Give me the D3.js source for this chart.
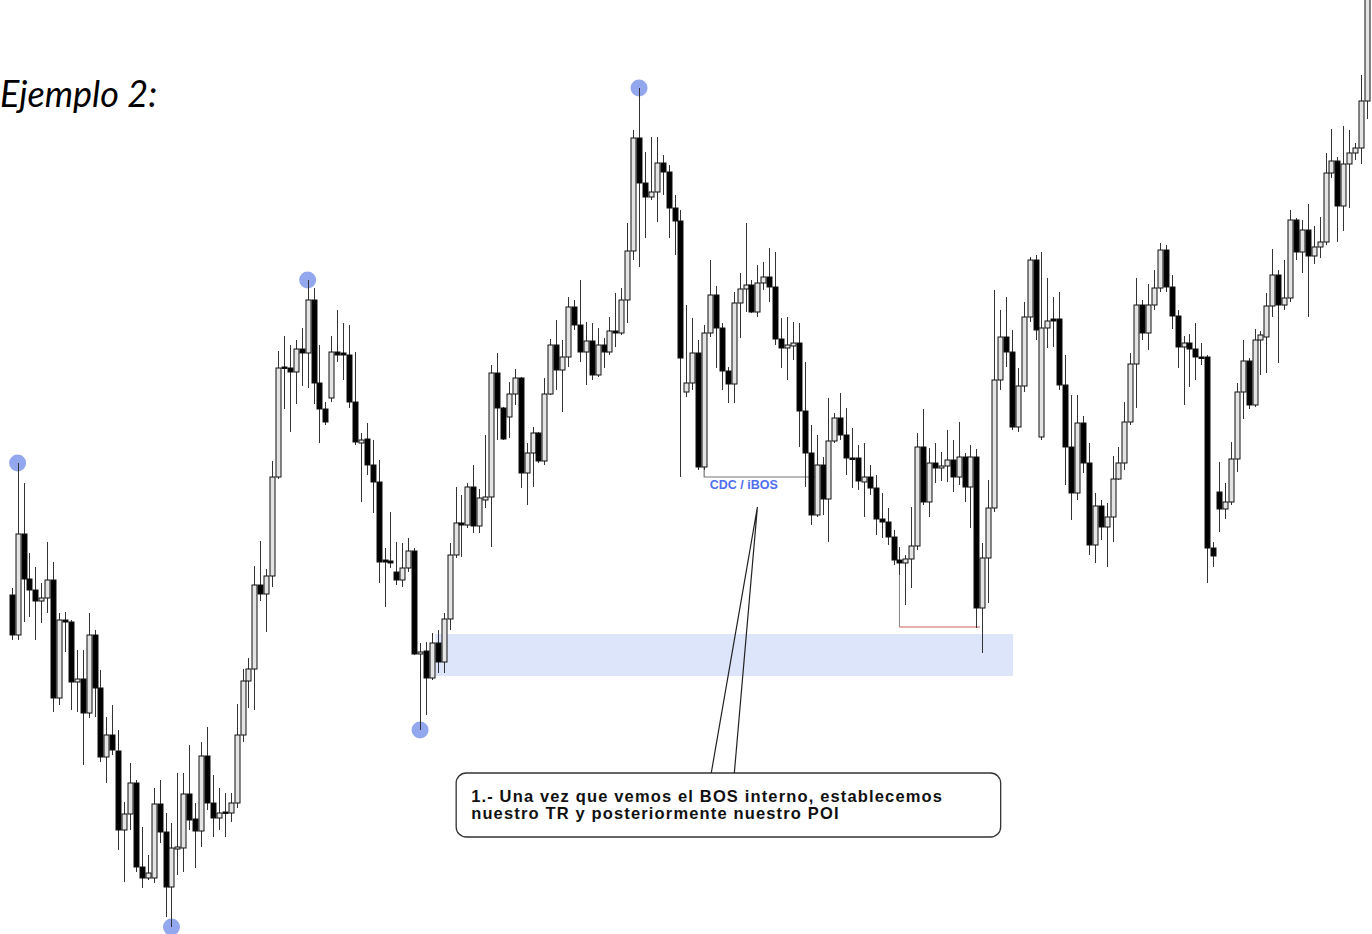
<!DOCTYPE html>
<html><head><meta charset="utf-8">
<script src="https://cdn.jsdelivr.net/npm/d3@7"></script>
<style>html,body{margin:0;padding:0;background:#fff;overflow:hidden}</style>
</head><body>
<script>
// Candle data (price points), one entry per candle, left to right
const opens = [405,365,466,421,410,399,402,420,302,380,378,318,321,287,365,312,243,265,249,170,
186,217,133,122,122,196,168,113,151,152,206,181,169,244,197,182,188,187,197,265,
319,331,415,406,424,523,633,632,628,651,647,700,617,591,602,648,647,645,598,557,
561,535,518,440,439,428,420,432,449,346,349,322,357,338,381,445,477,475,513,474,
500,503,627,592,583,606,622,527,547,567,539,606,655,630,643,693,675,648,659,625,
655,648,669,667,700,749,862,817,803,808,837,828,792,779,608,617,647,533,667,705,
672,629,616,697,711,715,688,717,723,713,661,652,654,657,589,547,485,535,501,559,
582,565,542,542,518,523,512,481,478,463,440,437,441,454,553,498,537,532,534,540,
523,543,513,543,392,442,492,620,663,648,573,614,683,740,563,672,681,681,615,553,
507,577,537,455,494,473,483,521,537,578,636,695,667,695,712,750,713,684,653,657,
651,643,643,452,508,491,498,541,608,639,595,660,663,694,725,695,702,780,748,770,
744,753,758,827,839,794,836,847,852,899];
const highs = [412,537,517,447,433,417,458,438,387,388,380,350,350,387,370,330,283,295,270,198,
237,220,173,145,212,220,187,177,227,227,255,197,258,273,225,212,207,207,296,331,
342,434,459,431,539,649,664,655,660,672,720,712,655,598,664,690,677,675,648,567,
577,560,540,452,488,458,457,462,452,357,358,367,370,387,457,513,505,517,535,511,
565,635,647,593,618,631,623,557,573,568,622,661,680,660,703,700,720,678,677,672,
662,683,707,712,777,870,912,848,863,863,845,835,805,790,695,682,660,675,740,714,
677,633,708,727,777,720,735,738,752,748,682,683,678,677,638,575,565,543,602,587,
607,592,572,555,557,535,525,507,492,470,453,445,493,567,591,552,557,548,570,560,
578,547,555,551,457,520,710,690,703,670,632,698,743,745,748,722,703,708,645,605,
605,584,557,507,500,497,544,553,598,647,722,700,716,730,757,755,725,690,664,666,
677,657,645,458,538,517,558,617,660,642,671,669,707,751,730,740,790,782,780,796,
774,783,847,871,843,874,870,857,925,1010];
const lows = [360,360,378,383,360,377,387,288,295,348,290,288,235,282,283,238,217,245,150,118,
170,128,112,120,117,157,83,73,125,128,170,132,153,190,163,170,163,178,192,258,
292,290,399,368,413,521,591,568,596,614,612,596,557,575,598,638,620,592,555,498,
525,487,417,393,432,415,413,428,345,270,285,320,327,327,370,442,443,472,467,467,
492,453,560,560,562,595,512,495,513,537,535,605,610,588,633,670,638,615,620,623,
632,645,653,665,677,740,733,762,800,778,805,762,745,523,603,610,530,530,663,632,
610,597,597,662,688,687,683,710,698,655,632,620,640,553,513,475,483,485,458,557,
560,525,512,510,483,505,465,462,455,435,425,395,412,450,495,483,517,519,518,508,
515,498,472,372,347,397,488,610,633,570,568,608,678,660,560,652,653,610,515,480,
500,527,445,437,460,433,458,520,530,575,592,660,650,690,708,708,671,632,595,613,
620,635,417,433,468,481,495,528,581,591,593,625,627,683,637,690,698,740,727,683,
736,742,755,822,758,769,792,840,836,881];
const closes = [365,466,421,410,399,402,420,302,380,378,318,321,287,365,312,243,265,250,170,186,
217,133,122,127,196,168,113,152,153,206,180,169,244,197,182,187,187,197,265,319,
331,415,406,424,523,632,632,628,651,647,700,617,591,578,648,645,645,598,558,560,
535,518,438,438,437,420,432,449,346,348,322,357,338,381,445,477,475,513,474,502,
503,627,592,561,606,622,527,547,567,539,606,655,630,643,693,675,648,659,625,655,
648,669,667,700,749,862,817,803,808,837,828,792,779,642,617,647,533,667,705,672,
629,616,697,711,715,688,717,723,713,661,652,655,657,589,547,485,535,501,559,582,
565,542,541,519,523,512,481,478,463,440,437,441,454,553,498,537,532,534,540,523,
543,513,543,392,442,492,620,663,648,573,614,683,740,670,672,679,679,615,553,507,
577,537,455,494,473,483,521,537,578,636,695,667,695,712,750,713,684,653,657,651,
643,642,452,444,491,498,541,608,639,595,660,665,694,725,695,702,780,748,770,744,
753,758,827,839,794,836,847,852,899,1010];

// Marked swing points: candle index and which extreme
const swingIdx  = [1, 27, 50, 69, 106];
const swingSide = ["high","low","high","low","high"];

// Annotation values (candle index / price)
const poiFrom = 71.6, poiTo = 169.2, poiTop = 366, poiBottom = 324;
const cdcFrom = 117, cdcTo = 135.7, cdcPrice = 523, cdcStart = 533, cdcLabelAt = 123.7;
const redFrom = 150, redTo = 163.6, redPrice = 373, redStart = 437;
const calloutLines = ["1.- Una vez que vemos el BOS interno, establecemos",
                      "nuestro TR y posteriormente nuestro POI"];

const W = 1372, H = 934;
const data = opens.map((o,i)=>({i, o, h:highs[i], l:lows[i], c:closes[i]}));

const x = d3.scaleLinear().domain([0, data.length-1]).range([11.7, 1367]);
const y = d3.scaleLinear().domain([66, 1000]).range([H, 0]);

const svg = d3.select("body").append("svg").attr("width", W).attr("height", H)
  .style("display","block");

// POI zone
svg.append("rect")
  .attr("x", x(poiFrom)).attr("width", x(poiTo)-x(poiFrom))
  .attr("y", y(poiTop)).attr("height", y(poiBottom)-y(poiTop))
  .attr("fill", "#dde5fb");

// swing dots
svg.selectAll("circle.sw").data(swingIdx).join("circle")
  .attr("class","sw")
  .attr("cx", i => x(i))
  .attr("cy", (i,k) => swingSide[k]==="high" ? y(highs[i]) : y(lows[i]))
  .attr("r", 8.5)
  .attr("fill", "#93a7ef");

// CDC line
svg.append("path")
  .attr("d", `M${x(cdcFrom)},${y(cdcStart)}V${y(cdcPrice)}H${x(cdcTo)}`)
  .attr("fill","none").attr("stroke","#777").attr("stroke-width",1.2);

// red line
svg.append("path")
  .attr("d", `M${x(redFrom)},${y(redStart)}V${y(redPrice)}`)
  .attr("fill","none").attr("stroke","#888").attr("stroke-width",1);
svg.append("path")
  .attr("d", `M${x(redFrom)},${y(redPrice)}H${x(redTo)}`)
  .attr("fill","none").attr("stroke","#d05a5a").attr("stroke-width",1);

// candles
const g = svg.append("g");
const px = v => Math.round(v) + 0.5;
g.selectAll("line.wick").data(data).join("line")
  .attr("x1", d => px(x(d.i))).attr("x2", d => px(x(d.i)))
  .attr("y1", d => y(d.h)).attr("y2", d => y(d.l))
  .attr("stroke", "#333").attr("stroke-width", 1);
g.selectAll("rect.body").data(data).join("rect")
  .attr("x", d => px(x(d.i)) - 2.5)
  .attr("width", 5)
  .attr("y", d => y(Math.max(d.o, d.c)))
  .attr("height", d => Math.max(1.5, Math.abs(y(d.o) - y(d.c))))
  .attr("fill", d => d.c >= d.o ? "#e4e4e4" : "#000")
  .attr("stroke", "#111").attr("stroke-width", 1);

// CDC label
svg.append("text").text("CDC / iBOS")
  .attr("x", x(cdcLabelAt)).attr("y", y(cdcPrice) + 12)
  .attr("text-anchor","middle")
  .attr("font-family","'Liberation Sans', Arial, sans-serif").attr("font-weight",700)
  .attr("font-size",12.5).attr("fill","#4f6ef0");

// Title
svg.append("text").text("Ejemplo 2:")
  .attr("x", 0).attr("y", 107)
  .attr("font-family","Lato, 'Open Sans', sans-serif").attr("font-style","italic")
  .attr("font-size",36).attr("fill","#000");

// Callout
const bx0 = x(75.1), bx1 = x(167.1), by0 = y(227), by1 = y(163);
svg.append("rect").attr("x", bx0).attr("y", by0).attr("width", bx1-bx0).attr("height", by1-by0)
  .attr("rx", 10).attr("fill","#fff").attr("stroke","#333").attr("stroke-width",1.3);
const tipX = x(126), tipY = y(493);
svg.append("path")
  .attr("d", `M${x(118.2)},${by0}L${tipX},${tipY}L${x(122.1)},${by0}`)
  .attr("fill","none").attr("stroke","#222").attr("stroke-width",1.2);
const ct = svg.append("text")
  .attr("font-family","'Liberation Sans', Arial, sans-serif").attr("font-weight",700)
  .attr("font-size",16.5).attr("letter-spacing",1.15).attr("fill","#111");
ct.selectAll("tspan").data(calloutLines).join("tspan")
  .text(d=>d)
  .attr("x", bx0 + 15).attr("y", (d,k)=> by0 + 29 + k*17);
</script>
</body></html>
